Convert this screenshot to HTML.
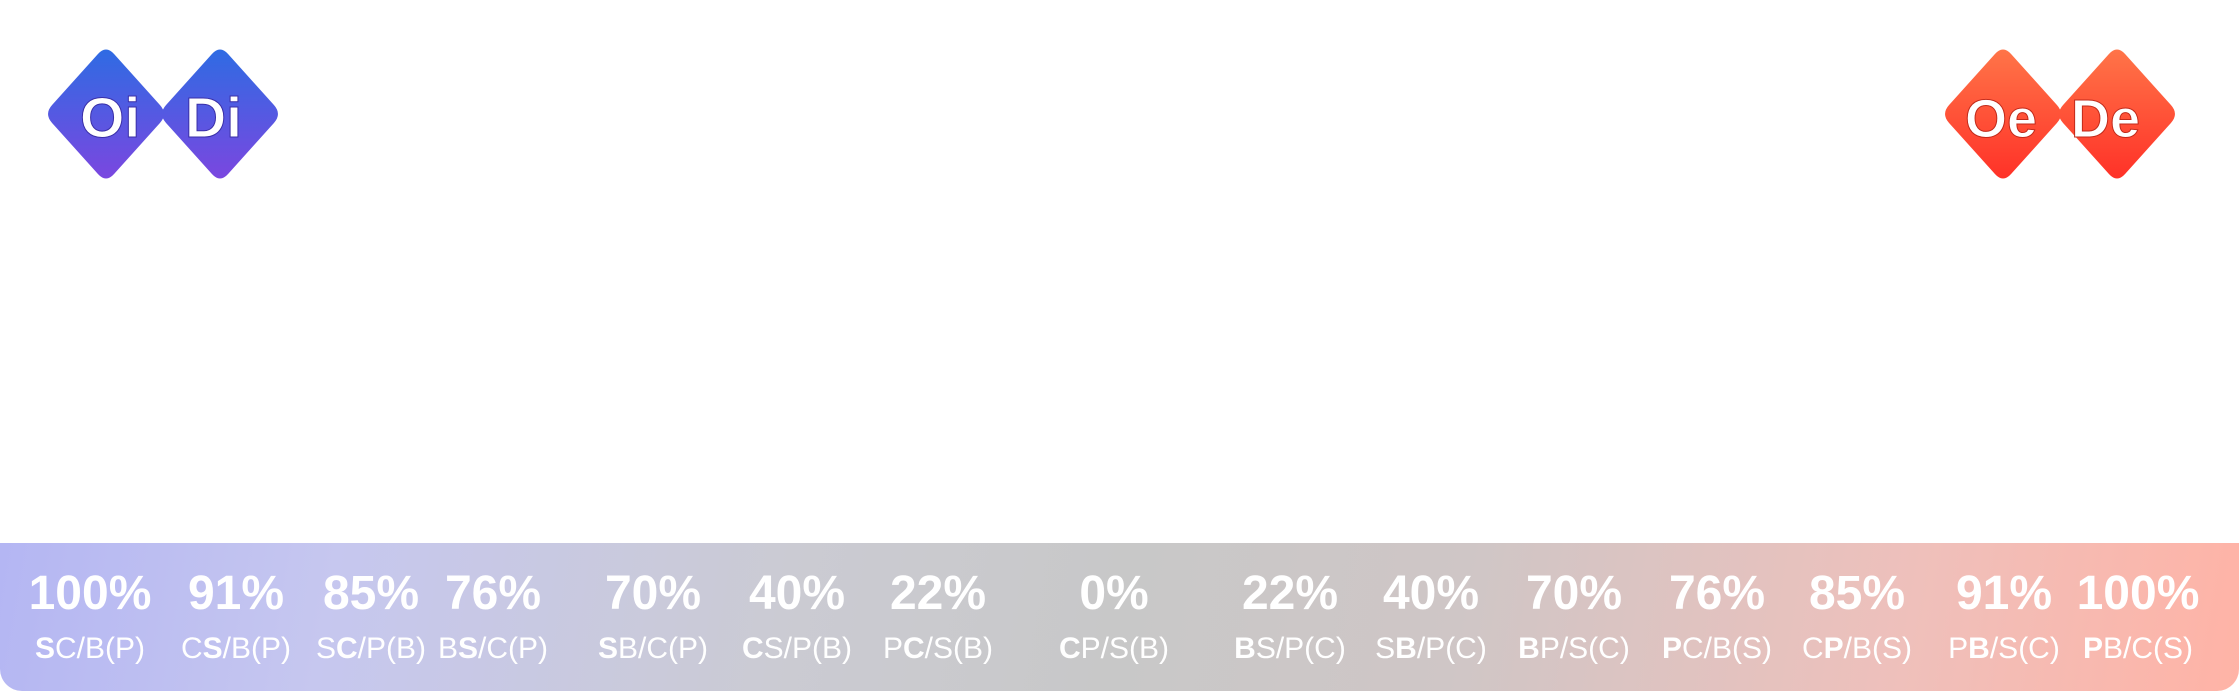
<!DOCTYPE html>
<html><head><meta charset="utf-8">
<style>
html,body{margin:0;padding:0;background:#fff;}
#root{position:relative;width:2239px;height:691px;overflow:hidden;background:#fff;font-family:"Liberation Sans",sans-serif;}
#band{position:absolute;left:0;top:543px;width:2239px;height:148px;border-radius:0 0 22px 22px;
background:linear-gradient(100deg,#b4b6f3 0%,#c6c7ef 15%,#cbcbd3 35%,#c8c8c8 50%,#cfc6c6 65%,#efc0bb 85%,#ffb3a6 100%);}
.col{position:absolute;top:0;width:220px;margin-left:-110px;text-align:center;color:#fff;}
.pct{position:absolute;top:23px;width:220px;font-weight:bold;font-size:48px;}
.lab{position:absolute;top:89px;width:220px;font-size:30px;white-space:nowrap;}
.lab b{font-weight:900;}
</style></head>
<body>
<div id="root">
<svg width="2239" height="200" style="position:absolute;left:0;top:0">
<defs>
<linearGradient id="gb" gradientUnits="userSpaceOnUse" x1="0" y1="50" x2="0" y2="178"><stop offset="0" stop-color="#2f6be3"/><stop offset="1" stop-color="#7a47e0"/></linearGradient>
<linearGradient id="gr" gradientUnits="userSpaceOnUse" x1="0" y1="50" x2="0" y2="178"><stop offset="0" stop-color="#ff7448"/><stop offset="1" stop-color="#ff3228"/></linearGradient>
</defs>
<g id="dia"></g>
<text x="80" y="137" font-family="Liberation Sans" font-weight="bold" font-size="57" fill="#fff" stroke="#3a2fa8" stroke-width="1">Oi</text>
<text x="185" y="137" font-family="Liberation Sans" font-weight="bold" font-size="57" fill="#fff" stroke="#3a2fa8" stroke-width="1">Di</text>
<text x="1965" y="137" font-family="Liberation Sans" font-weight="bold" font-size="54" fill="#fff" stroke="#c22a1a" stroke-width="1">Oe</text>
<text x="2071" y="137" font-family="Liberation Sans" font-weight="bold" font-size="54" fill="#fff" stroke="#c22a1a" stroke-width="1">De</text>
</svg>
<div id="band"></div>
</div>
<script>
const percents=["100%","91%","85%","76%","70%","40%","22%","0%","22%","40%","70%","76%","85%","91%","100%"];
const labels=["<b>S</b>C/B(P)","C<b>S</b>/B(P)","S<b>C</b>/P(B)","B<b>S</b>/C(P)","<b>S</b>B/C(P)","<b>C</b>S/P(B)","P<b>C</b>/S(B)","<b>C</b>P/S(B)","<b>B</b>S/P(C)","S<b>B</b>/P(C)","<b>B</b>P/S(C)","<b>P</b>C/B(S)","C<b>P</b>/B(S)","P<b>B</b>/S(C)","B<b>P</b>/C(S)","<b>P</b>B/C(S)"];
const labelIdx=[0,1,2,3,4,5,6,7,8,9,10,11,12,13,15];
const centers=[90,236,371,493,653,797,938,1114,1290,1431,1574,1717,1857,2004,2138];
const diamonds=[[106,'gb'],[220,'gb'],[2003,'gr'],[2117,'gr']];
const dia=document.getElementById('dia');
diamonds.forEach(d=>{
  const cx=d[0],cy=114,hw=62,hh=69,k=0.13;
  const pts=[[cx,cy-hh],[cx+hw,cy],[cx,cy+hh],[cx-hw,cy]];
  let s='';
  for(let i=0;i<4;i++){
    const p=pts[i],prev=pts[(i+3)%4],next=pts[(i+1)%4];
    const a=[p[0]+(prev[0]-p[0])*k,p[1]+(prev[1]-p[1])*k];
    const b=[p[0]+(next[0]-p[0])*k,p[1]+(next[1]-p[1])*k];
    s+=(i?'L':'M')+a[0]+','+a[1]+' Q'+p[0]+','+p[1]+' '+b[0]+','+b[1]+' ';
  }
  const path=document.createElementNS('http://www.w3.org/2000/svg','path');
  path.setAttribute('d',s+'Z');
  path.setAttribute('fill','url(#'+d[1]+')');
  
  
  dia.appendChild(path);
});
const band=document.getElementById('band');
for(let i=0;i<percents.length;i++){
  const c=document.createElement('div');
  c.className='col';
  c.style.left=centers[i]+'px';
  
  
  const p=document.createElement('div');
  p.className='pct';
  p.textContent=percents[i];
  
  
  const l=document.createElement('div');
  l.className='lab';
  l.innerHTML=labels[labelIdx[i]];
  
  
  c.appendChild(p);c.appendChild(l);band.appendChild(c);
}
</script>
</body></html>
